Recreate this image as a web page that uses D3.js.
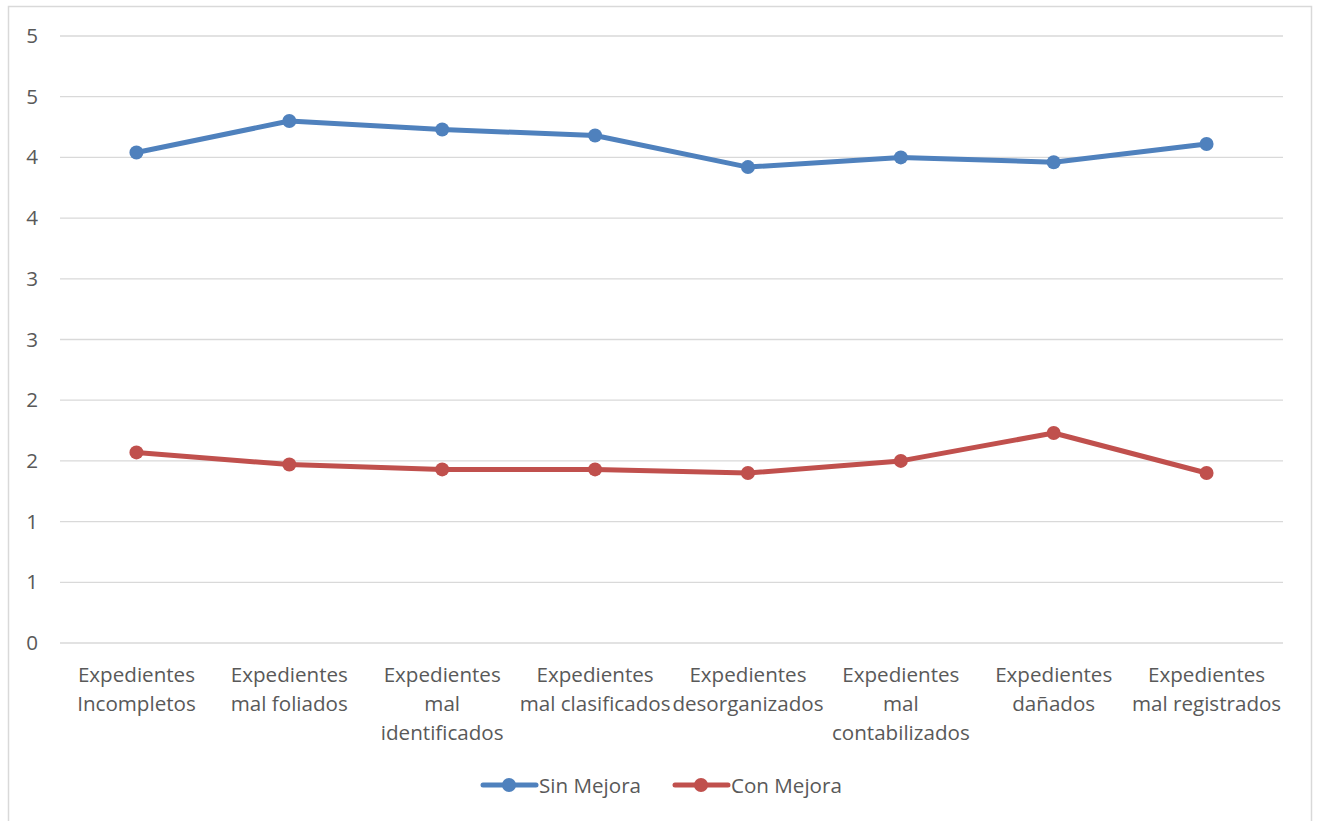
<!DOCTYPE html>
<html><head><meta charset="utf-8">
<script src="https://cdn.jsdelivr.net/npm/d3@7"></script>
<style>
body{margin:0;background:#fff;}
svg{display:block;font-family:"Open Sans",sans-serif;}
</style></head>
<body><svg id="c" width="1320" height="821"></svg>
<script>
const categories = [
  "Expedientes\nIncompletos",
  "Expedientes\nmal foliados",
  "Expedientes\nmal\nidentificados",
  "Expedientes\nmal clasificados",
  "Expedientes\ndesorganizados",
  "Expedientes\nmal\ncontabilizados",
  "Expedientes\ndañados",
  "Expedientes\nmal registrados"
];
const sinMejora = [4.04, 4.30, 4.23, 4.18, 3.92, 4.00, 3.96, 4.11];
const conMejora = [1.57, 1.47, 1.43, 1.43, 1.40, 1.50, 1.73, 1.40];
const yTicks = [0, 0.5, 1, 1.5, 2, 2.5, 3, 3.5, 4, 4.5, 5];
const seriesNames = ["Sin Mejora", "Con Mejora"];
const colors = ["#4F81BD", "#C0504D"];

const svg = d3.select("#c");
const fs = 20.6;
svg.append("rect").attr("x",8.5).attr("y",6.5).attr("width",1303).attr("height",830)
  .attr("fill","#fff").attr("stroke","#D9D9D9").attr("stroke-width",1.5);

const x = d3.scaleBand().domain(d3.range(categories.length)).range([60,1283]);
const y = d3.scaleLinear().domain([0,5]).range([643,36]);

const grid = svg.append("g");
grid.selectAll("line").data(yTicks).join("line")
  .attr("x1",60).attr("x2",1283)
  .attr("y1",d=>y(d)).attr("y2",d=>y(d))
  .attr("stroke","#D9D9D9").attr("stroke-width",1.3);

const yAxis = d3.axisLeft(y).tickValues(yTicks).tickSize(0).tickPadding(0)
  .tickFormat(d=>Math.round(d+1e-9).toString());
const yg = svg.append("g").attr("transform","translate(38,0)").call(yAxis);
yg.select(".domain").remove();
yg.selectAll("text").attr("font-size",fs).attr("fill","#595959").attr("font-family","Open Sans");

const xAxis = d3.axisBottom(x).tickSize(0).tickFormat(d=>categories[d]);
const xg = svg.append("g").attr("transform","translate(0,643)").call(xAxis);
xg.select(".domain").remove();
xg.selectAll("text").each(function(d){
  const t = d3.select(this);
  const lines = categories[d].split("\n");
  t.text(null).attr("font-size",fs).attr("fill","#595959").attr("font-family","Open Sans")
   .attr("y",0).attr("dy",null);
  lines.forEach((ln,i)=>{
    t.append("tspan").attr("x",0).attr("y",39+i*29).text(ln);
  });
});

const line = d3.line().x((d,i)=>x(i)+x.bandwidth()/2).y(d=>y(d));
[sinMejora, conMejora].forEach((s,k)=>{
  svg.append("path").datum(s).attr("d",line).attr("fill","none")
    .attr("stroke",colors[k]).attr("stroke-width",5).attr("stroke-linejoin","round").attr("stroke-linecap","round");
  svg.append("g").selectAll("circle").data(s).join("circle")
    .attr("cx",(d,i)=>x(i)+x.bandwidth()/2).attr("cy",d=>y(d)).attr("r",7)
    .attr("fill",colors[k]);
});

const legendX = [481, 673];
seriesNames.forEach((n,k)=>{
  const g = svg.append("g").attr("transform",`translate(${legendX[k]},785)`);
  g.append("line").attr("x1",2).attr("x2",55).attr("stroke",colors[k]).attr("stroke-width",5).attr("stroke-linecap","round");
  g.append("circle").attr("cx",28).attr("r",7).attr("fill",colors[k]);
  g.append("text").attr("x",58).attr("y",7.5).attr("font-size",fs).attr("fill","#595959").text(n);
});
</script></body></html>
